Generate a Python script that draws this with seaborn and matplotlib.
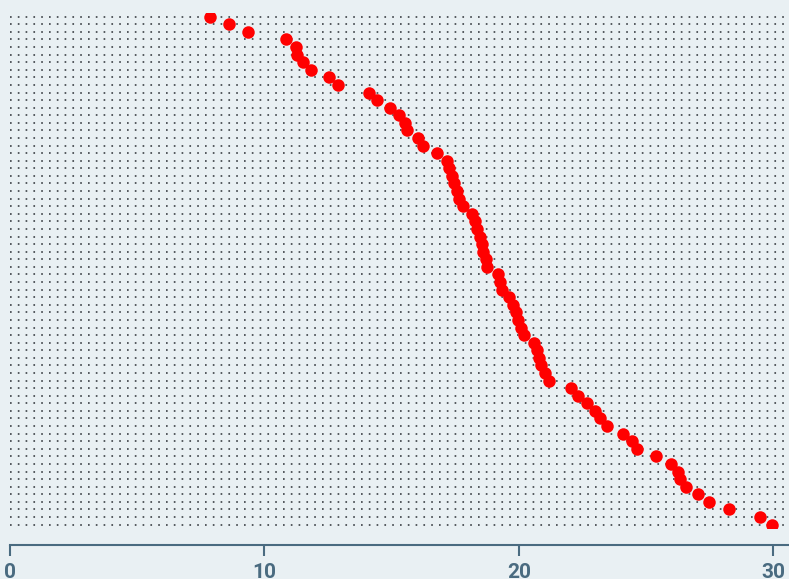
import matplotlib
matplotlib.use('Agg')
import matplotlib.pyplot as plt
import seaborn as sns
import pandas as pd

# значения точек сверху вниз (отсортированы)
values = [7.86, 8.61, 9.35, 10.84, 11.24, 11.28, 11.51, 11.83, 12.53, 12.88,
          14.11, 14.41, 14.93, 15.28, 15.52, 15.59, 16.03, 16.23, 16.76, 17.17,
          17.25, 17.37, 17.45, 17.56, 17.66, 17.80, 18.15, 18.27, 18.35, 18.47,
          18.55, 18.60, 18.70, 18.74, 19.17, 19.25, 19.33, 19.61, 19.76, 19.88,
          19.96, 20.08, 20.20, 20.59, 20.71, 20.77, 20.86, 21.02, 21.18, 22.04,
          22.32, 22.67, 22.99, 23.18, 23.46, 24.09, 24.44, 24.64, 25.38, 25.97,
          26.25, 26.31, 26.56, 27.03, 27.47, 28.25, 29.47, 29.94]
rows = ['row %d' % (i + 1) for i in range(len(values))]
x_ticks = [0, 10, 20, 30]

df = pd.DataFrame({'row': rows, 'value': values})

bg = '#e9f0f3'
axis_color = '#4a6b80'

sns.set_style('white')
plt.rcParams['font.family'] = ['Roboto', 'DejaVu Sans']

fig = plt.figure(figsize=(7.89, 5.79), dpi=100, facecolor=bg)
ax = fig.add_axes([10 / 789, 0.0874, 779 / 789, 0.8903])
ax.set_facecolor(bg)

sns.stripplot(data=df, x='value', y='row', orient='h', jitter=False,
              color='#ff0000', size=9, linewidth=0, ax=ax, zorder=3)

ax.set_xlim(0, 30.61)
ax.set_ylim(len(rows) - 0.5, -0.5)
ax.set_xticks(x_ticks)
ax.set_xticklabels([str(t) for t in x_ticks])

# пунктирные линии по каждой строке
ax.set_axisbelow(True)
ax.grid(axis='y', linestyle=(0, (1, 3.68)), linewidth=1.2, color='#3a3f44')
ax.grid(axis='x', visible=False)

for s in ['left', 'right', 'top']:
    ax.spines[s].set_visible(False)
ax.spines['bottom'].set_position(('outward', 12))
ax.spines['bottom'].set_color(axis_color)
ax.spines['bottom'].set_linewidth(1.5)

ax.tick_params(axis='y', length=0, labelleft=False)
ax.tick_params(axis='x', bottom=True, length=8, width=1.5, color=axis_color,
               labelcolor=axis_color, labelsize=15, pad=5)
for lab in ax.get_xticklabels():
    lab.set_fontweight('bold')

ax.set_xlabel('')
ax.set_ylabel('')

fig.savefig('out.png', dpi=100, facecolor=bg)
